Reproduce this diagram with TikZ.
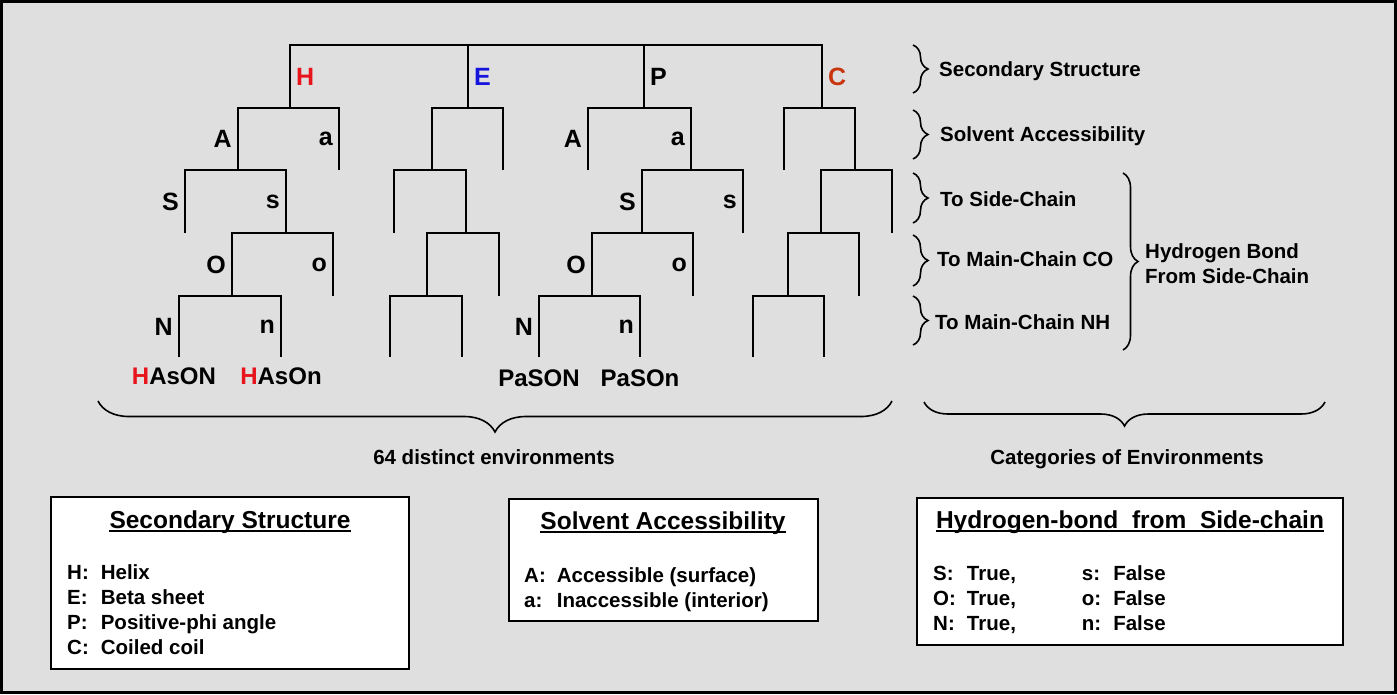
\documentclass[tikz,border=0pt]{standalone}
\usepackage{fontspec}
\setmainfont{Liberation Sans}
\usetikzlibrary{positioning,decorations.pathreplacing}

\definecolor{panelgray}{HTML}{DFDFDF}
\definecolor{helixred}{HTML}{E8141B}
\definecolor{sheetblue}{HTML}{1414DC}
\definecolor{coilred}{HTML}{C8350F}

\begin{document}
\begin{tikzpicture}[x=1pt, y=-1pt,
    branch/.style={line width=2.4pt},
    tag/.style={left, inner sep=5pt, font=\fontsize{25}{28}\selectfont\bfseries},
    tagR/.style={tag, right},
    leaf/.style={inner sep=0pt, font=\fontsize{24}{28}\selectfont\bfseries},
    cat/.style={anchor=base west, inner sep=0pt, align=left, font=\fontsize{20.5}{25}\selectfont\bfseries},
    brc/.style={decorate, decoration={brace, amplitude=#1}, line width=1.6pt},
    legend/.style={draw, fill=white, line width=2.5pt},
    boxtitle/.style={anchor=base, inner sep=0pt, font=\fontsize{24.5}{28}\selectfont\bfseries},
    uline/.style={line width=1.8pt},
    items/.style={anchor=base west, inner sep=0pt, font=\fontsize{20.5}{25}\selectfont\bfseries}
]
\useasboundingbox (0,0) rectangle (1397,694);
\draw[fill=panelgray, line width=3pt] (1.5,1.5) rectangle (1395.5,692.5);

% -------- Estructura secundaria (H, E, P, C) --------
\coordinate (root) at (556,45);
\coordinate (H) at (290,108);
\coordinate (E) at (468,108);
\coordinate (P) at (644,108);
\coordinate (C) at (822,108);

\draw[branch] (H) -- node[tagR, text=helixred] (tH) {H} (H |- root) -- (C |- root)
    -- node[tagR, text=coilred] (tC) {C} (C);
\draw[branch] (E |- root) -- node[tagR, text=sheetblue] (tE) {E} (E);
\draw[branch] (P |- root) -- node[tagR] (tP) {P} (P);

% -------- Rama H --------
\coordinate (HA) at (238,170);
\coordinate (Ha) at (339,170);
\coordinate (HAS) at (185,233);
\coordinate (HAs) at (286,233);
\coordinate (HAsO) at (232,296);
\coordinate (HAso) at (333,296);
\coordinate (HAsON) at (179,357);
\coordinate (HAsOn) at (281,357);

\draw[branch] (HA) -- node[tag] (tHA) {A} (HA |- H) -- (Ha |- H) -- node[tag] (tHa) {a} (Ha);
\draw[branch] (HAS) -- node[tag] (tHAS) {S} (HAS |- HA) -- (HAs |- HA) -- node[tag] (tHAs) {s} (HAs);
\draw[branch] (HAsO) -- node[tag] (tHAsO) {O} (HAsO |- HAs) -- (HAso |- HAs) -- node[tag] (tHAso) {o} (HAso);
\draw[branch] (HAsON) -- node[tag] (tHAsON) {N} (HAsON |- HAsO) -- (HAsOn |- HAsO) -- node[tag] (tHAsOn) {n} (HAsOn);

\node[leaf, below=11pt of HAsON, xshift=-5pt] (lHAsON) {\textcolor{helixred}{H}AsON};
\node[leaf, below=11pt of HAsOn] (lHAsOn) {\textcolor{helixred}{H}AsOn};

% -------- Rama E (sin etiquetas) --------
\coordinate (EA) at (432,170);
\coordinate (Ea) at (503,170);
\coordinate (EAS) at (394,233);
\coordinate (EAs) at (466,233);
\coordinate (EAsO) at (427,296);
\coordinate (EAso) at (499,296);
\coordinate (EAsON) at (390,357);
\coordinate (EAsOn) at (462,357);

\draw[branch] (EA) -- (EA |- E) -- (Ea |- E) -- (Ea);
\draw[branch] (EAS) -- (EAS |- EA) -- (EAs |- EA) -- (EAs);
\draw[branch] (EAsO) -- (EAsO |- EAs) -- (EAso |- EAs) -- (EAso);
\draw[branch] (EAsON) -- (EAsON |- EAsO) -- (EAsOn |- EAsO) -- (EAsOn);

% -------- Rama P --------
\coordinate (PA) at (588,170);
\coordinate (Pa) at (691,170);
\coordinate (PaS) at (642,233);
\coordinate (Pas) at (743,233);
\coordinate (PaSO) at (592,296);
\coordinate (PaSo) at (693,296);
\coordinate (PaSON) at (539,357);
\coordinate (PaSOn) at (640,357);

\draw[branch] (PA) -- node[tag] (tPA) {A} (PA |- P) -- (Pa |- P) -- node[tag] (tPa) {a} (Pa);
\draw[branch] (PaS) -- node[tag] (tPaS) {S} (PaS |- Pa) -- (Pas |- Pa) -- node[tag] (tPas) {s} (Pas);
\draw[branch] (PaSO) -- node[tag] (tPaSO) {O} (PaSO |- PaS) -- (PaSo |- PaS) -- node[tag] (tPaSo) {o} (PaSo);
\draw[branch] (PaSON) -- node[tag] (tPaSON) {N} (PaSON |- PaSO) -- (PaSOn |- PaSO) -- node[tag] (tPaSOn) {n} (PaSOn);

\node[leaf, below=13pt of PaSON] (lPaSON) {PaSON};
\node[leaf, below=13pt of PaSOn] (lPaSOn) {PaSOn};

% -------- Rama C (sin etiquetas) --------
\coordinate (CA) at (784,170);
\coordinate (Ca) at (855,170);
\coordinate (CaS) at (821,233);
\coordinate (Cas) at (892,233);
\coordinate (CaSO) at (788,296);
\coordinate (CaSo) at (859,296);
\coordinate (CaSON) at (753,357);
\coordinate (CaSOn) at (824,357);

\draw[branch] (CA) -- (CA |- C) -- (Ca |- C) -- (Ca);
\draw[branch] (CaS) -- (CaS |- Ca) -- (Cas |- Ca) -- (Cas);
\draw[branch] (CaSO) -- (CaSO |- CaS) -- (CaSo |- CaS) -- (CaSo);
\draw[branch] (CaSON) -- (CaSON |- CaSO) -- (CaSOn |- CaSO) -- (CaSOn);

% -------- Llaves de la derecha --------
\draw[brc=15pt] (913,45) -- (913,93);
\draw[brc=15pt] (913,110) -- (913,159);
\draw[brc=15pt] (913,173) -- (913,223);
\draw[brc=15pt] (913,235) -- (913,286);
\draw[brc=15pt] (913,296) -- (913,345);
\draw[brc=15pt] (1123,173) -- (1123,350);

\node[cat] (kSS) at (939,76) {Secondary Structure};
\node[cat] (kSA) at (940,141) {Solvent Accessibility};
\node[cat] (kSC) at (940,206) {To Side-Chain};
\node[cat] (kCO) at (937,266) {To Main-Chain CO};
\node[cat] (kNH) at (935,329) {To Main-Chain NH};
\node[cat] (kHB) at (1145,283) {Hydrogen Bond\\From Side-Chain};

% -------- Llaves de abajo --------
\draw[brc=31pt] (892,401) -- (98,401);
\draw[brc=24pt] (1325,402) -- (924,402);
\node[cat, anchor=base] (kEnv) at (494,464) {64 distinct environments};
\node[cat, anchor=base] (kCat) at (1127,464) {Categories of Environments};

% -------- Cuadros de leyenda --------
\node[legend, minimum width=358pt, minimum height=172pt] (boxSS) at (230,583) {};
\node[boxtitle] (ttlSS) at (230,528) {Secondary Structure};
\draw[uline] ([yshift=-3pt]ttlSS.base west) -- ([yshift=-3pt]ttlSS.base east);
\node[items] (itmSS) at (67,579) {\begin{tabular}[t]{@{}l@{\hspace{12pt}}l@{}}
    H: & Helix\\ E: & Beta sheet\\ P: & Positive-phi angle\\ C: & Coiled coil\end{tabular}};

\node[legend, minimum width=309pt, minimum height=122pt] (boxSA) at (663.5,560) {};
\node[boxtitle] (ttlSA) at (663,529) {Solvent Accessibility};
\draw[uline] ([yshift=-3pt]ttlSA.base west) -- ([yshift=-3pt]ttlSA.base east);
\node[items] (itmSA) at (524,582) {\begin{tabular}[t]{@{}l@{\hspace{11pt}}l@{}}
    A: & Accessible (surface)\\ a: & Inaccessible (interior)\end{tabular}};

\node[legend, minimum width=426pt, minimum height=147pt] (boxHB) at (1130,571.5) {};
\node[boxtitle] (ttlHB) at (1130,528) {Hydrogen-bond~ from~ Side-chain};
\draw[uline] ([yshift=-3pt]ttlHB.base west) -- ([yshift=-3pt]ttlHB.base east);
\node[items] (itmHB) at (933,580) {\begin{tabular}[t]{@{}l@{\hspace{11pt}}l@{\hspace{66pt}}l@{\hspace{12pt}}l@{}}
    S: & True, & s: & False\\ O: & True, & o: & False\\ N: & True, & n: & False\end{tabular}};
\end{tikzpicture}
\end{document}
